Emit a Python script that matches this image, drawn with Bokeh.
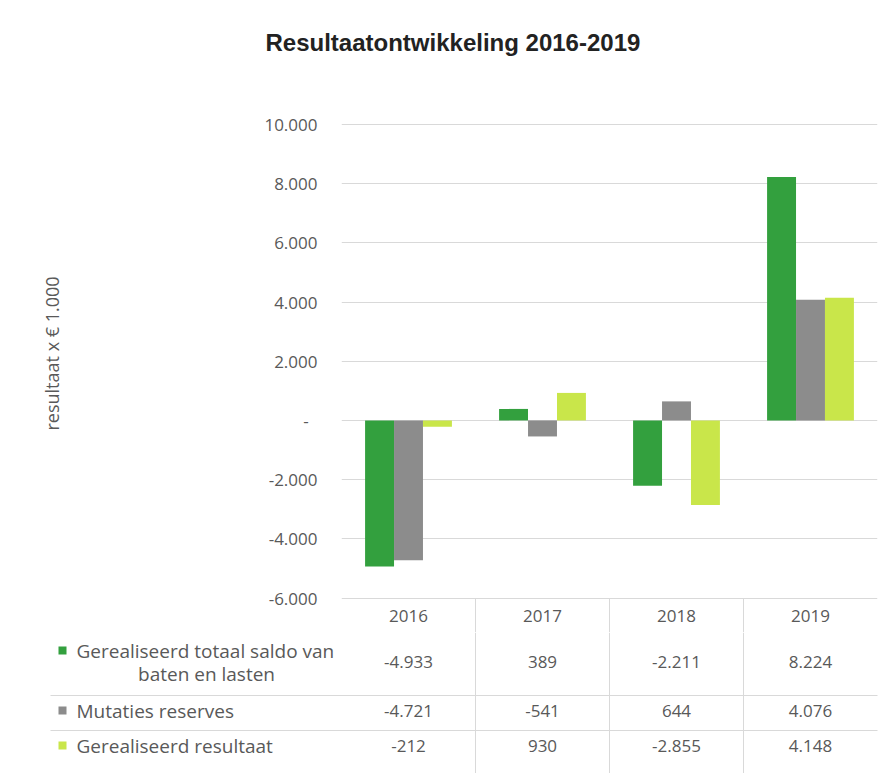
from bokeh.plotting import figure
from bokeh.layouts import column
from bokeh.models import ColumnDataSource, FixedTicker, Range1d, FactorRange, Title
from bokeh.transform import dodge
from bokeh.core.properties import value
from bokeh.embed import file_html
from bokeh.resources import INLINE

# ---------------- data ----------------
years = ["2016", "2017", "2018", "2019"]
series_lines = [["Gerealiseerd totaal saldo van", "baten en lasten"],
                ["Mutaties reserves"],
                ["Gerealiseerd resultaat"]]
saldo = [-4933, 389, -2211, 8224]
mutaties = [-4721, -541, 644, 4076]
resultaat = [-212, 930, -2855, 4148]
y_ticks = [-6000, -4000, -2000, 0, 2000, 4000, 6000, 8000, 10000]
title_text = "Resultaatontwikkeling 2016-2019"
y_label = "resultaat x \u20ac 1.000"

colors = ["#33a03e", "#8c8c8c", "#c9e64a"]
TXT = "#595959"
GRID = "#d9d9d9"
FONT = "Open Sans"


def fmt(v):
    if v == 0:
        return "-"
    return f"{v:,}".replace(",", ".")


def tick_fmt(v):
    return "-\u00a0\u00a0" if v == 0 else fmt(v)


series = [saldo, mutaties, resultaat]

# ---------------- layout constants (pixels) ----------------
W = 889
FRAME_L = 341          # canvas x of plot frame left
FRAME_R = 877          # canvas x of plot frame right
FRAME_T = 115
A_H = 632              # chart canvas height (includes the table header row)
B_H = 773 - A_H        # table canvas height
px_per_unit = (FRAME_R - FRAME_L) / len(years)
px_per_k = 29.594      # pixels per 1000 on the value axis
Y_TOP_PX = 124         # pixel row of the top tick


def ya(yp):
    # page y pixel -> chart value coordinate
    return y_ticks[-1] - (yp - Y_TOP_PX) / px_per_k * 1000


y_top = ya(FRAME_T)
y_bot = ya(A_H)

# ---------------- chart figure ----------------
src = ColumnDataSource(dict(year=years, s0=saldo, s1=mutaties, s2=resultaat))

p = figure(x_range=FactorRange(*years, range_padding=0),
           y_range=Range1d(y_bot, y_top), title=None,
           width=W, height=A_H, output_backend="svg", toolbar_location=None,
           x_axis_location=None,
           min_border_left=FRAME_L, min_border_right=W - FRAME_R,
           min_border_top=FRAME_T, min_border_bottom=0)
p.frame_align = False
p.outline_line_color = None
p.background_fill_color = "white"
p.border_fill_color = "white"

# title: a blank spacer panel next to the frame, then the title itself
p.add_layout(Title(text="\u00a0", text_font_size="1px", standoff=57), "above")
p.add_layout(Title(text=title_text, align="left", offset=-76, standoff=0,
                   text_font="Liberation Sans", text_font_style="bold",
                   text_font_size="24px", text_color="#222222"), "above")

p.xgrid.visible = False
p.ygrid.ticker = FixedTicker(ticks=y_ticks)
p.ygrid.grid_line_color = GRID
p.ygrid.grid_line_width = 1

ax = p.yaxis[0]
ax.ticker = FixedTicker(ticks=y_ticks)
ax.major_label_overrides = {t: tick_fmt(t) for t in y_ticks}
ax.axis_line_color = None
ax.major_tick_line_color = None
ax.minor_tick_line_color = None
ax.major_tick_out = 0
ax.major_tick_in = 0
ax.major_label_standoff = 24
ax.major_label_text_font = FONT
ax.major_label_text_font_size = "17px"
ax.major_label_text_color = TXT

# value-axis caption in the left panel, with a blank spacer panel before it
p.add_layout(Title(text="\u00a0", text_font_size="1px", standoff=195), "left")
p.add_layout(Title(text=y_label, align="left", offset=202, standoff=0,
                   text_font=FONT, text_font_size="18px", text_font_style="normal",
                   text_color=TXT), "left")

bw = 0.216
for i, key in enumerate(["s0", "s1", "s2"]):
    p.vbar(x=dodge("year", (i - 1) * bw, range=p.x_range), top=key, bottom=0,
           width=bw, source=src, fill_color=colors[i], line_color=None)

# table: column separators and header row (inside the chart's lower strip)
sep_src = ColumnDataSource(dict(year=years[:-1]))
p.segment(x0=dodge("year", 0.5, range=p.x_range), x1=dodge("year", 0.5, range=p.x_range),
          y0=y_ticks[0], y1=y_bot, source=sep_src, line_color=GRID, line_width=1)
p.text(x="year", y=ya(615), text="year", source=src, text_align="center",
       text_baseline="middle", text_font=value(FONT), text_font_size="17px", text_color=TXT)

# ---------------- table figure ----------------
x_start = -FRAME_L / px_per_unit
q = figure(x_range=Range1d(x_start, x_start + W / px_per_unit),
           y_range=Range1d(B_H, 0),
           width=W, height=B_H, output_backend="svg", toolbar_location=None,
           x_axis_location=None, y_axis_location=None,
           min_border_left=0, min_border_right=0, min_border_top=0, min_border_bottom=0)
q.frame_align = False
q.outline_line_color = None
q.xgrid.visible = False
q.ygrid.visible = False
q.background_fill_color = "white"
q.border_fill_color = "white"


def px(xp):
    # page x pixel -> table x coordinate
    return (xp - FRAME_L) / px_per_unit


def py(yp):
    # page y pixel -> table y coordinate
    return yp - A_H


col_x = [i + 0.5 for i in range(len(years))]
row_y = [py(661), py(710), py(745)]
line_y = [[py(650), py(673)], [py(710)], [py(745)]]
div_y = [py(695), py(730)]

# vertical separators
q.segment(x0=[i + 1 for i in range(len(years) - 1)], x1=[i + 1 for i in range(len(years) - 1)],
          y0=0, y1=B_H, line_color=GRID, line_width=1)
# horizontal dividers
q.segment(x0=px(50), x1=len(years), y0=div_y, y1=div_y, line_color=GRID, line_width=1)

# values
for r, vals in enumerate(series):
    q.text(x=col_x, y=row_y[r], text=[fmt(v) for v in vals], text_align="center",
           text_baseline="middle", text_font=value(FONT), text_font_size="17px", text_color=TXT)

# legend keys and labels
q.scatter(x=px(62), y=[ly[0] for ly in line_y], marker="square", size=8,
          fill_color=colors, line_color=None)
q.text(x=px(76), y=[ly[0] for ly in line_y], text=[sl[0] for sl in series_lines],
       text_align="left", text_baseline="middle", text_font=value(FONT),
       text_font_size="19px", text_color=TXT)
q.text(x=px(206), y=[line_y[0][1]], text=[series_lines[0][1]], text_align="center",
       text_baseline="middle", text_font=value(FONT), text_font_size="19px", text_color=TXT)

layout = column(p, q, spacing=0)
open("out.html", "w").write(file_html(layout, INLINE))
